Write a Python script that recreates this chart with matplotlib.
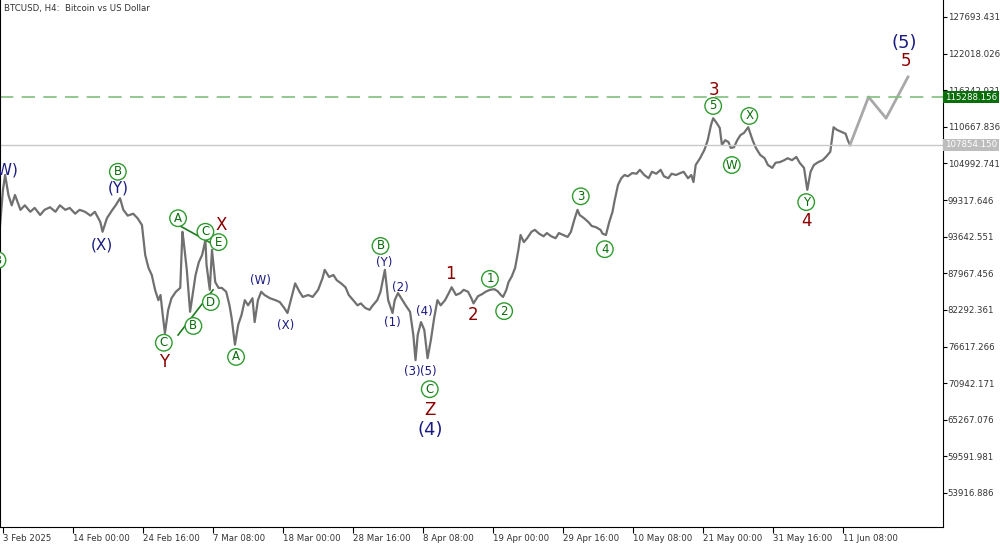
import matplotlib
matplotlib.use('Agg')
import matplotlib.pyplot as plt
from matplotlib.transforms import blended_transform_factory

# H4 bar index (0 = 3 Feb 2025 08:00) and price in thousands USD
bars = [-3, 0, 2, 5, 8, 11, 16, 20, 25, 29, 34, 38, 43, 48, 52, 57, 61, 66, 70, 75, 80, 84, 89, 91, 95,
        100, 103, 107, 110, 114, 119, 123, 127, 130, 133, 136, 139, 142, 144, 146, 148, 151, 154, 158,
        162, 164, 165, 168, 171, 174, 176, 179, 182, 185, 186, 189, 191, 194, 197, 200, 204, 207, 209,
        212, 215, 218, 221, 224, 228, 230, 233, 236, 239, 244, 249, 253, 257, 260, 263, 267, 271, 274,
        279, 283, 288, 292, 294, 298, 302, 305, 309, 313, 316, 320, 324, 327, 331, 335, 338, 342, 345,
        349, 352, 356, 358, 361, 365, 368, 372, 375, 377, 379, 382, 385, 388, 391, 394, 397, 400, 404,
        408, 410, 414, 418, 421, 425, 428, 430, 434, 438, 441, 445, 449, 452, 455, 457, 460, 462, 465,
        468, 471, 473, 476, 479, 483, 486, 490, 494, 497, 501, 505, 508, 512, 516, 519, 522, 525, 527,
        531, 535, 538, 542, 546, 548, 551, 554, 557, 559, 562, 565, 568, 571, 575, 579, 582, 586, 590,
        593, 597, 601, 604, 608, 611, 615, 619, 622, 626, 629, 631, 633, 637, 641, 644, 647, 649, 652,
        655, 657, 660, 663, 665, 668, 671, 674, 677, 681, 685, 688, 692, 696, 699, 703, 706, 710, 714,
        717, 721, 725, 728, 732, 735, 738, 741, 745, 749, 752, 756, 759, 762, 766, 770, 772, 774]
prices = [94.7, 100.9, 103.2, 100.1, 98.5, 100.1, 97.8, 98.5, 97.5, 98.1, 97.0, 97.8, 98.2, 97.5, 98.5,
          97.8, 98.1, 97.2, 97.8, 97.5, 96.9, 97.5, 95.9, 94.4, 96.5, 97.8, 98.5, 99.6, 97.8, 96.9,
          97.2, 96.5, 95.45, 90.8, 88.8, 87.7, 85.4, 83.8, 84.6, 81.5, 78.7, 82.3, 84.1, 85.1, 85.7,
          94.4, 93.1, 88.5, 82.0, 85.4, 87.7, 89.7, 90.8, 93.1, 89.3, 85.4, 91.6, 86.6, 85.7, 85.7,
          85.1, 83.0, 81.0, 76.9, 80.0, 81.5, 83.8, 83.0, 84.1, 80.4, 83.8, 85.1, 84.6, 84.1, 83.8,
          83.5, 82.6, 81.8, 83.8, 86.4, 85.1, 84.3, 84.6, 84.3, 85.4, 87.2, 88.5, 87.4, 87.7, 86.9,
          86.4, 85.8, 84.6, 83.8, 83.0, 83.3, 82.6, 82.3, 83.0, 83.8, 85.1, 88.5, 83.8, 81.8, 83.8,
          84.9, 83.8, 83.0, 82.0, 78.4, 74.5, 78.4, 80.4, 79.2, 74.8, 77.6, 81.0, 83.8, 83.0, 83.8,
          85.1, 85.8, 84.6, 84.9, 85.4, 85.1, 84.1, 83.3, 84.4, 84.75, 85.1, 85.4, 85.5, 85.2, 84.6,
          84.3, 85.4, 86.6, 87.5, 88.8, 91.6, 93.9, 92.8, 93.4, 94.4, 94.7, 94.1, 93.7, 94.2, 93.7,
          93.4, 94.2, 93.9, 93.6, 94.4, 96.2, 97.8, 97.0, 96.5, 95.9, 95.3, 95.1, 94.7, 94.1, 93.9,
          95.9, 97.5, 99.3, 101.65, 102.7, 103.2, 103.0, 103.5, 103.4, 104.0, 103.2, 102.7, 103.7,
          103.4, 104.0, 103.0, 102.7, 103.4, 103.2, 103.5, 103.7, 102.7, 103.2, 102.1, 104.75, 105.8,
          107.1, 108.6, 110.95, 112.0, 111.3, 110.5, 107.85, 108.6, 108.3, 107.4, 107.5, 108.6, 109.4,
          109.7, 110.6, 108.6, 107.4, 106.3, 105.8, 104.75, 104.3, 105.1, 105.2, 105.5, 105.8, 105.5,
          106.0, 105.1, 104.3, 100.9, 103.7, 104.75, 105.2, 105.5, 106.0, 106.8, 110.6, 110.2, 109.9,
          109.6, 108.6, 107.85]

proj_bars = [774, 791, 807, 827]
proj_prices = [107.85, 115.3, 112.0, 118.4]

target_price = 115288.156
last_price = 107854.150

price_ticks = [127693.431, 122018.026, 116342.931, 110667.836, 104992.741, 99317.646, 93642.551,
               87967.456, 82292.361, 76617.266, 70942.171, 65267.076, 59591.981, 53916.886]
date_labels = ['3 Feb 2025', '14 Feb 00:00', '24 Feb 16:00', '7 Mar 08:00', '18 Mar 00:00',
               '28 Mar 16:00', '8 Apr 08:00', '19 Apr 00:00', '29 Apr 16:00', '10 May 08:00',
               '21 May 00:00', '31 May 16:00', '11 Jun 08:00']

# wave labels: (bar, price k, text, style)
waves = [
    (2, 104.0, '(W)', 'navy'), (-5, 90.0, 'B', 'circ'),
    (105, 103.7, 'B', 'circ'), (105, 101.2, '(Y)', 'navy'), (90, 92.35, '(X)', 'navy'),
    (160, 96.5, 'A', 'circ'), (185, 94.4, 'C', 'circ'), (197, 92.8, 'E', 'circ'),
    (190, 83.5, 'D', 'circ'), (174, 79.8, 'B', 'circ'), (147, 77.2, 'C', 'circ'),
    (147, 74.2, 'Y', 'red'), (199, 95.45, 'X', 'red'), (213, 75.0, 'A', 'circ'),
    (235, 86.8, '(W)', 'navys'), (258, 79.95, '(X)', 'navys'),
    (345, 92.2, 'B', 'circ'), (348, 89.7, '(Y)', 'navys'), (363, 85.7, '(2)', 'navys'),
    (356, 80.3, '(1)', 'navys'), (385, 82.0, '(4)', 'navys'), (374, 72.7, '(3)', 'navys'),
    (389, 72.7, '(5)', 'navys'), (390, 70.0, 'C', 'circ'), (390, 66.8, 'Z', 'red'),
    (390, 63.7, '(4)', 'navyb'),
    (409, 87.85, '1', 'red'), (430, 81.5, '2', 'red'), (445, 87.1, '1', 'circ'),
    (458, 82.1, '2', 'circ'), (528, 99.9, '3', 'circ'), (550, 91.7, '4', 'circ'),
    (649, 113.9, '5', 'circ'), (650, 116.4, '3', 'red'), (666, 104.75, 'W', 'circ'),
    (682, 112.35, 'X', 'circ'), (734, 99.0, 'Y', 'circ'), (734, 96.1, '4', 'red'),
    (824, 123.7, '(5)', 'navyb'), (825, 120.9, '5', 'red'),
]
tri_lines = [((157, 197), (95.76, 92.0)), ((160, 192), (78.4, 85.4))]

fig = plt.figure(figsize=(10, 5.45), dpi=100)
ax = fig.add_axes([0.0, 18 / 545, 0.943, 527 / 545])

ax.plot(bars, [p * 1000 for p in prices], color='#707070', lw=1.6)
ax.plot(proj_bars, [p * 1000 for p in proj_prices], color='#a8a8a8', lw=2)
for xs, ys in tri_lines:
    ax.plot(xs, [y * 1000 for y in ys], color='#1e7a1e', lw=1.2)

ax.axhline(target_price, color='#7fbf7f', lw=1.2, ls=(0, (8, 5)))
ax.axhline(last_price, color='#c8c8c8', lw=1)

for b, p, t, st in waves:
    kw = dict(ha='center', va='center', clip_on=True)
    if st == 'circ':
        ax.text(b, p * 1000, t, fontsize=8.5, color='#0b6b0b',
                bbox=dict(boxstyle='circle,pad=0.15', fc='white', ec='#2e9b2e', lw=1), **kw)
    elif st == 'red':
        ax.text(b, p * 1000, t, fontsize=12, color='#8b0000', **kw)
    elif st == 'navy':
        ax.text(b, p * 1000, t, fontsize=11, color='#1a1a80', **kw)
    elif st == 'navys':
        ax.text(b, p * 1000, t, fontsize=8.5, color='#1a1a80', **kw)
    else:
        ax.text(b, p * 1000, t, fontsize=13, color='#1a1a80', **kw)

ax.set_xlim(-2.7, 859)
ax.set_ylim(48640, 130325)
ax.set_xticks([i * 64 for i in range(len(date_labels))])
ax.set_xticklabels(date_labels, ha='left', fontsize=6.2, color='#333333')
ax.tick_params(axis='x', length=4, pad=1)
ax.yaxis.tick_right()
ax.set_yticks(price_ticks)
ax.set_yticklabels([f'{v:.3f}' for v in price_ticks], fontsize=6.2, color='#333333')
ax.tick_params(axis='y', length=3, pad=0.5)
ax.spines['top'].set_visible(False)
for s in ['left', 'right', 'bottom']:
    ax.spines[s].set_color('black')
    ax.spines[s].set_linewidth(0.8)

tr = blended_transform_factory(ax.transAxes, ax.transData)
ax.text(1.002, target_price, f'{target_price:.3f}', transform=tr, fontsize=6.2, color='white',
        va='center', ha='left', bbox=dict(boxstyle='square,pad=0.2', fc='#0a6e0a', ec='none'))
ax.text(1.002, last_price, f'{last_price:.3f}', transform=tr, fontsize=6.2, color='white',
        va='center', ha='left', bbox=dict(boxstyle='square,pad=0.2', fc='#bdbdbd', ec='none'))
ax.text(0.004, 0.992, 'BTCUSD, H4:  Bitcoin vs US Dollar', transform=ax.transAxes,
        fontsize=6.2, color='#333333', va='top', ha='left')

fig.savefig('out.png', dpi=100)
